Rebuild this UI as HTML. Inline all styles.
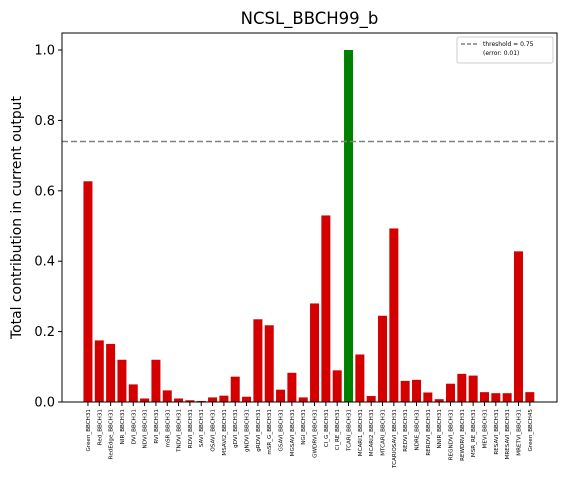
<!DOCTYPE html>
<html><head><meta charset="utf-8"><style>
body{margin:0;background:#fff;font-family:"DejaVu Sans","Liberation Sans",sans-serif}
</style></head><body>
<svg id="c" width="570" height="495" xmlns="http://www.w3.org/2000/svg" font-family="DejaVu Sans, Liberation Sans, sans-serif"></svg>
<script>
const categories=["Green_BBCH31","Red_BBCH31","RedEdge_BBCH31","NIR_BBCH31","DVI_BBCH31","NDVI_BBCH31","RVI_BBCH31","mSR_BBCH31","TNDVI_BBCH31","RDVI_BBCH31","SAVI_BBCH31","OSAVI_BBCH31","MSAVI2_BBCH31","gDVI_BBCH31","gNDVI_BBCH31","gRDVI_BBCH31","mSR_G_BBCH31","GSAVI_BBCH31","MGSAVI_BBCH31","NGI_BBCH31","GWDRVI_BBCH31","CI_G_BBCH31","CI_RE_BBCH31","TCARI_BBCH31","MCARI1_BBCH31","MCARI2_BBCH31","MTCARI_BBCH31","TCARIOSAVI_BBCH31","REDVI_BBCH31","NDRE_BBCH31","RERDVI_BBCH31","NNIR_BBCH31","REGNDVI_BBCH31","REWDRVI_BBCH31","MSR_RE_BBCH31","MEVI_BBCH31","RESAVI_BBCH31","MRESAVI_BBCH31","MRETVI_BBCH31","Green_BBCH45"];
const values=[0.627,0.175,0.165,0.12,0.05,0.01,0.12,0.033,0.01,0.005,0.003,0.013,0.018,0.072,0.015,0.235,0.218,0.035,0.083,0.013,0.28,0.53,0.09,1.0,0.135,0.017,0.245,0.493,0.06,0.063,0.027,0.008,0.052,0.08,0.075,0.028,0.025,0.025,0.428,0.028];
const highlight=[23];
const yTicks=[0.0,0.2,0.4,0.6,0.8,1.0];
const threshold=0.74;
const NS="http://www.w3.org/2000/svg",svg=document.getElementById('c');
const L=62,R=557,T=33,B=402;
const X=i=>L+(i+2.29)/(43.69)*(R-L);
const Y=v=>B-v*352;
function el(t,a,txt){const e=document.createElementNS(NS,t);for(const k in a)e.setAttribute(k,a[k]);if(txt!=null)e.textContent=txt;svg.appendChild(e);return e;}
const bw=9;
values.forEach((v,i)=>{
 const r=el('rect',{x:X(i)-bw/2,y:Y(v),width:bw,height:B-Y(v),fill:highlight.includes(i)?'#008000':'#d40000'});
 
 
 const tk=el('line',{x1:X(i),x2:X(i),y1:B,y2:B+4,stroke:'#000'});
 
 
 const tl=el('text',{x:0,y:0,'font-size':5.6,'text-anchor':'end',transform:`translate(${X(i)+2},${B+7}) rotate(-90)`},categories[i]);
 
 
});
yTicks.forEach(v=>{
 const tk=el('line',{x1:L-4,x2:L,y1:Y(v),y2:Y(v),stroke:'#000'});
 
 
 const tl=el('text',{x:L-7,y:Y(v)+4.5,'font-size':13,'text-anchor':'end'},v.toFixed(1));
 
 
});
const th=el('line',{x1:L,x2:R,y1:Y(threshold),y2:Y(threshold),stroke:'#808080','stroke-width':1.5,'stroke-dasharray':'6,3'});


const fr=el('rect',{x:L,y:T,width:R-L,height:B-T,fill:'none',stroke:'#000'});


const ti=el('text',{x:(L+R)/2,y:24,'font-size':16.5,'text-anchor':'middle'},'NCSL_BBCH99_b');


const yt=el('text',{x:0,y:0,'font-size':13.9,'text-anchor':'middle',transform:`translate(21,${(T+B)/2}) rotate(-90)`},'Total contribution in current output');


const lg=el('rect',{x:457,y:37,width:96,height:26,fill:'#fff',stroke:'#ccc',rx:2});


const ll=el('line',{x1:461,x2:479,y1:44,y2:44,stroke:'#808080','stroke-width':1.5,'stroke-dasharray':'4,2'});


const lt1=el('text',{x:483,y:46,'font-size':6},'threshold = 0.75');


const lt2=el('text',{x:483,y:55,'font-size':6},'(error: 0.01)');


</script>
</body></html>
